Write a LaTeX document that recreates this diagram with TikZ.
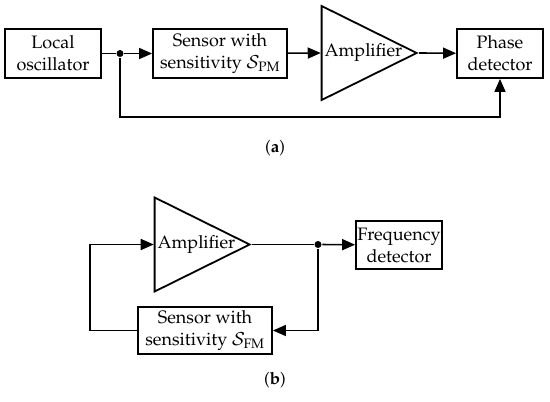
\documentclass[tikz,border=0pt]{standalone}
\usepackage{amsmath,amssymb}
\usepackage[T1]{fontenc}
\usepackage{mathpazo}
\usepackage{tikz}
\usetikzlibrary{arrows.meta, positioning, calc, shapes.geometric}

\begin{document}
\begin{tikzpicture}[x=1pt,y=-1pt,
  font=\fontsize{18}{22}\selectfont,
  line width=1.6pt,
  blk/.style={draw,rectangle,align=center,inner sep=0pt,line width=1.8pt},
  amp/.style={draw,isosceles triangle,isosceles triangle stretches=true,
              minimum width=94pt,minimum height=95pt,inner sep=0pt,
              line width=1.8pt,anchor=apex},
  amptxt/.style={anchor=west,inner sep=0pt},
  sig/.style={-{Triangle[length=13pt,width=11pt]}},
  jn/.style={circle,fill,inner sep=0pt,minimum size=7pt},
  sublbl/.style={font=\fontsize{17}{20}\selectfont}]
\useasboundingbox (0,0) rectangle (550,402);

% ===== (a) phase measurement =====
\node[blk,minimum width=96pt,minimum height=49pt] (osc) at (53,53.5)
  {Local\\oscillator};
\node[blk,minimum width=134pt,minimum height=49pt] (sensa) at (220,53.5)
  {Sensor with\\sensitivity $\mathcal{S}_{\mathrm{PM}}$};
\node[amp] (ampa) at (419,53) {};
\node[amptxt] (ampatxt) at ($(ampa.west)+(3,0)$) {Amplifier};
\node[blk,minimum width=86pt,minimum height=49pt] (phase) at (500,53.5)
  {Phase\\detector};
\node[jn] (ja) at (120,53.5) {};
\coordinate (fba) at (120,117);

\draw (osc) -- (ja);
\draw[sig] (ja) -- (sensa);
\draw[sig] (sensa) -- (ampa.west);
\draw[sig] (ampa.apex) -- (phase);
\draw[sig] (ja) -- (fba) -| (phase.south);

\node[sublbl] (lbla) at (275,148) {(\textbf{a})};

% ===== (b) frequency measurement =====
\node[amp] (ampb) at (252,244.5) {};
\node[amptxt] (ampbtxt) at ($(ampb.west)+(3,0)$) {Amplifier};
\node[jn] (jb) at (318,244.5) {};
\node[blk,minimum width=86pt,minimum height=48pt] (freq) at (399,245)
  {Frequency\\detector};
\node[blk,minimum width=134pt,minimum height=47pt] (sensb) at (205,330.5)
  {Sensor with\\sensitivity $\mathcal{S}_{\mathrm{FM}}$};
\coordinate (fbb) at (90,244.5);

\draw (ampb.apex) -- (jb);
\draw[sig] (jb) -- (freq);
\draw[sig] (jb) |- (sensb.east);
\draw[sig] (sensb.west) -| (fbb) -- (ampb.west);

\node[sublbl] (lblb) at (275,380) {(\textbf{b})};
\end{tikzpicture}
\end{document}
